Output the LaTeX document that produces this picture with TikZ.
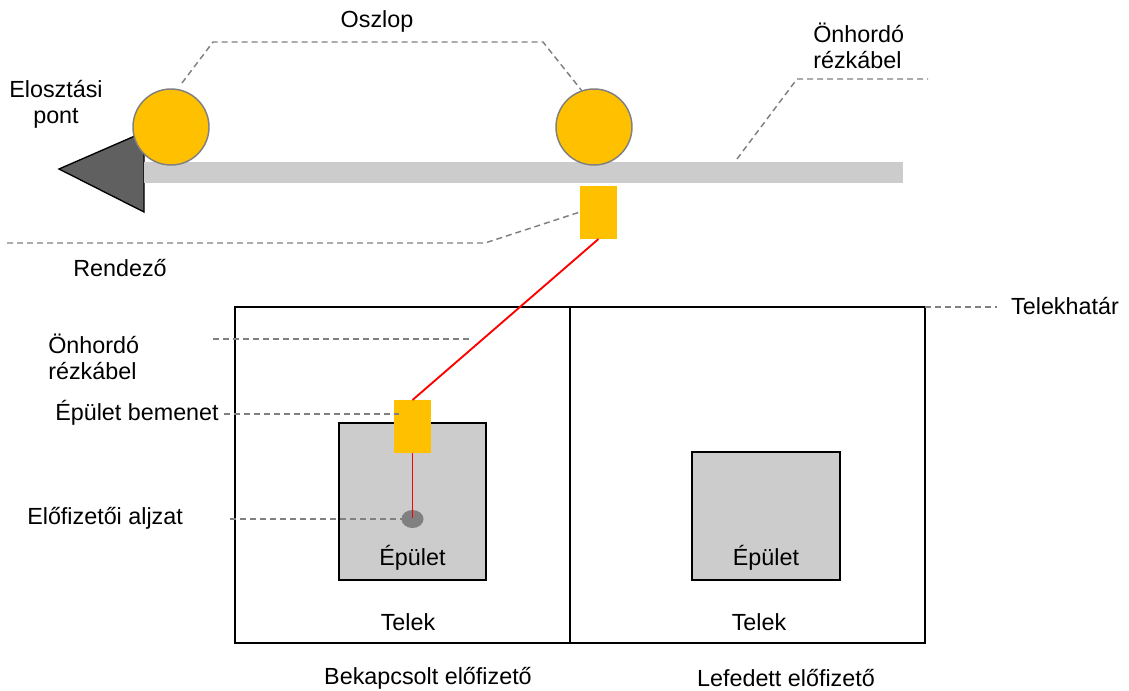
\documentclass[tikz,border=0pt]{standalone}
\usepackage{fontspec}
\setmainfont{Liberation Sans}
\usetikzlibrary{shapes.geometric}
\definecolor{ylw}{HTML}{FFC000}
\definecolor{barg}{HTML}{CCCCCC}
\definecolor{dkg}{HTML}{606060}
\definecolor{midg}{HTML}{808080}
\begin{document}
\begin{tikzpicture}[x=0.75pt,y=-0.75pt,
  lbl/.style={inner sep=0pt, font=\fontsize{17.5}{19.5}\selectfont, text=black},
  callout/.style={draw=midg, line width=1.1pt, dash pattern=on 4.5pt off 3pt},
  pole/.style={circle, draw=midg, line width=1.1pt, fill=ylw, minimum size=57pt, inner sep=0pt},
  box/.style={draw=black, line width=1pt},
  house/.style={draw=black, line width=1.1pt, fill=barg},
  ybox/.style={fill=ylw, draw=none},
  cable/.style={draw=red, line width=1.4pt}]
\useasboundingbox (0,0) rectangle (1129,690);
% distribution point triangle
\filldraw[fill=dkg, draw=black, line width=1pt] (144,132) -- (59,169) -- (144,212) -- cycle;
% aerial cable bar
\fill[barg] (144,162) rectangle (903,183);
% poles
\node[pole] (p1) at (171,127) {};
\node[pole] (p2) at (594,127) {};
% distributor box
\path[ybox] (580,186) rectangle (617,239);
\coordinate (rbot) at (598.5,239);
\coordinate (rleft) at (580,212);
% plots
\draw[box] (235,307) rectangle (925,643);
\draw[box] (570,307) -- (570,643);
% buildings
\draw[house] (339,423) rectangle (486,580);
\draw[house] (692,452) rectangle (840,580);
\node[lbl] (e1) at (412.5,558) {Épület};
\node[lbl] (e2) at (766,558) {Épület};
\node[lbl] (t1) at (408,622) {Telek};
\node[lbl] (t2) at (759,622) {Telek};
% building entry
\path[ybox] (394,400) rectangle (431,453);
\coordinate (btop) at (412.5,400);
\coordinate (bbot) at (412.5,453);
% socket
\node[ellipse, fill=midg, minimum width=16.5pt, minimum height=13.5pt, inner sep=0pt] (sock) at (412.5,519) {};
% cables
\draw[cable] (rbot) -- (btop);
\draw[cable] (bbot) -- (sock.center);
% labels
\node[lbl] (osz) at (377,21) {Oszlop};
\node[lbl, align=center] (elo) at (56,104) {Elosztási\\pont};
\node[lbl] (ren) at (120,268) {Rendező};
\node[lbl, align=left, anchor=west] (onh1) at (813,46) {Önhordó\\rézkábel};
\node[lbl, align=left, anchor=west] (onh2) at (48,357) {Önhordó\\rézkábel};
\node[lbl, anchor=west] (bem) at (55,413) {Épület bemenet};
\node[lbl, anchor=west] (alj) at (27,518) {Előfizetői aljzat};
\node[lbl] (thr) at (1065,306) {Telekhatár};
\node[lbl] (bek) at (428,678) {Bekapcsolt előfizető};
\node[lbl] (lef) at (786,678) {Lefedett előfizető};
% callout coordinates
\coordinate (c1a) at (182,83);
\coordinate (c1b) at (213,42);
\coordinate (c1c) at (543,42);
\coordinate (c1d) at (582,91);
\coordinate (c2a) at (737,159);
\coordinate (c2b) at (797,79);
\coordinate (c2c) at (928,79);
\coordinate (c3a) at (7,243);
\coordinate (c3b) at (485,243);
\coordinate (c4a) at (213,339);
\coordinate (c4b) at (470,339);
\coordinate (c5a) at (224,414);
\coordinate (c5b) at (399,414);
\coordinate (c6a) at (230,519);
\coordinate (c7a) at (925,307);
\coordinate (c7b) at (997,307);
% callouts
\draw[callout] (c1a) -- (c1b) -- (c1c) -- (c1d);
\draw[callout] (c2a) -- (c2b) -- (c2c);
\draw[callout] (c3a) -- (c3b) -- (rleft);
\draw[callout] (c4a) -- (c4b);
\draw[callout] (c5a) -- (c5b);
\draw[callout] (c6a) -- (sock.center);
\draw[callout] (c7a) -- (c7b);
\end{tikzpicture}
\end{document}
